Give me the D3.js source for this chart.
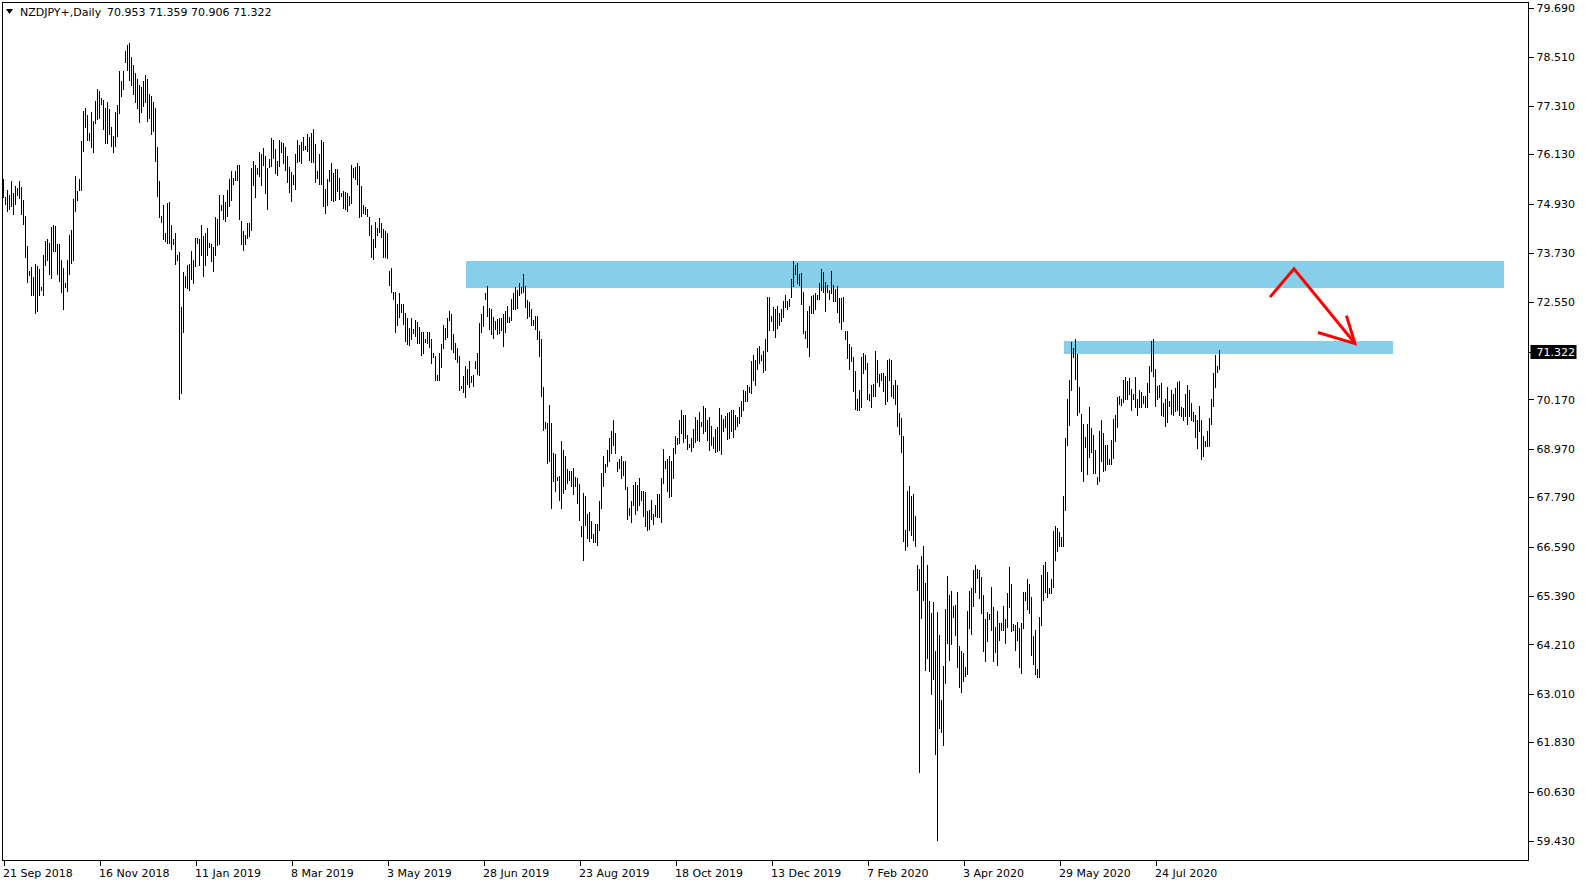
<!DOCTYPE html>
<html><head><meta charset="utf-8">
<script src="https://cdn.jsdelivr.net/npm/d3@7"></script>
<style>
html,body{margin:0;padding:0;background:#fff;overflow:hidden;}
text{font-family:"DejaVu Sans",Verdana,sans-serif;font-size:11px;fill:#000;}
</style></head>
<body><svg id="c" width="1585" height="884"></svg>
<script>
// ---- data (NZDJPY+, Daily) ----
const symbol = "NZDJPY+,Daily";
const lastOHLC = [70.953, 71.359, 70.906, 71.322];
const highs = [
75.51,75.08,75.26,75.13,75.48,75.18,75.35,75.29,75.48,75.32,
75.02,74.62,73.90,73.28,73.37,73.13,73.46,73.41,73.32,72.89,
73.68,74.01,74.07,73.97,74.35,74.39,74.37,73.95,73.93,73.55,
73.36,72.99,73.56,74.15,74.29,75.04,75.59,75.24,75.53,76.44,
77.17,77.24,77.07,76.63,77.15,76.94,77.43,77.70,77.67,77.50,
77.45,77.24,77.39,77.23,76.79,76.56,77.15,77.31,78.14,77.90,
78.14,78.63,78.79,78.82,78.50,78.30,78.10,77.95,77.80,77.75,
77.90,78.05,77.95,77.60,77.55,77.40,77.25,76.30,75.48,74.63,
74.88,74.20,74.93,74.96,74.39,74.05,74.21,73.66,73.74,72.40,
73.25,73.17,73.44,73.46,73.78,73.56,74.09,74.09,74.06,74.41,
74.13,74.20,74.33,73.97,73.95,73.86,74.59,74.54,75.14,74.88,
75.14,74.97,75.26,75.52,75.71,75.55,75.71,75.85,75.87,74.50,
74.25,74.15,74.44,74.46,75.78,75.97,75.87,75.78,76.17,76.14,
76.28,76.09,75.79,76.01,76.52,76.48,76.24,75.97,76.46,76.42,
76.40,76.30,76.08,75.81,75.69,75.61,76.12,76.48,76.34,76.43,
76.55,76.32,76.62,76.54,76.63,76.74,76.38,75.71,76.14,76.46,
76.43,75.27,75.52,75.73,75.91,75.67,75.77,75.77,75.55,75.18,
75.22,75.20,75.18,75.10,75.85,75.79,75.81,75.91,75.83,75.36,
74.88,74.84,74.80,74.60,74.39,74.05,74.47,74.32,74.56,74.45,
74.30,74.25,74.20,73.29,73.36,72.77,72.77,72.47,72.75,72.49,
72.47,72.25,72.13,71.90,72.13,71.88,72.10,72.04,71.92,71.80,
71.80,71.64,71.80,71.80,71.62,71.29,71.21,70.75,71.28,71.51,
71.98,71.90,72.13,72.31,72.23,71.76,71.52,71.40,71.21,70.48,
70.72,70.97,70.89,71.09,70.74,70.76,71.09,71.28,72.02,72.23,
72.43,72.75,72.91,72.39,72.36,72.16,72.06,72.12,72.14,72.13,
72.23,72.31,72.44,72.16,72.61,72.74,72.89,72.83,72.98,72.90,
73.22,72.91,72.57,72.52,72.37,72.09,72.18,72.20,71.82,71.63,
70.46,69.61,69.59,70.03,69.59,68.86,68.84,68.27,68.29,69.14,
68.92,68.79,68.47,68.43,68.43,68.48,68.27,68.25,68.11,67.08,
67.89,67.82,67.36,67.42,67.20,66.89,67.12,67.12,67.68,68.37,
68.79,68.60,68.92,69.21,69.39,69.65,69.35,68.63,68.72,68.78,
68.66,68.66,68.03,67.52,67.68,68.07,68.15,68.07,68.24,67.94,
67.94,67.90,67.44,67.48,67.72,67.38,67.60,67.87,67.87,68.25,
68.96,68.66,68.70,68.78,68.67,68.98,69.28,69.22,69.65,69.91,
69.79,69.77,69.30,69.08,69.21,69.45,69.74,69.67,69.85,69.61,
70.01,69.95,69.67,69.73,69.51,69.24,69.43,69.48,69.94,69.79,
69.69,69.75,69.83,69.86,69.90,69.91,69.79,69.73,69.98,70.12,
70.38,70.36,70.50,70.46,71.09,71.23,71.11,71.40,71.47,71.23,
71.33,71.62,72.65,72.65,72.18,72.41,72.35,72.43,72.25,72.36,
72.55,72.69,72.56,72.61,73.09,73.52,73.44,73.47,73.21,73.24,
72.77,71.83,72.32,72.43,72.67,72.71,72.75,72.69,72.99,73.32,
73.26,73.01,72.95,72.83,73.28,72.95,72.85,72.91,72.63,72.63,
72.65,71.83,71.83,71.51,71.44,71.19,70.86,70.17,70.38,71.19,
71.28,71.23,71.05,70.28,70.50,70.54,71.33,71.11,70.77,70.79,
70.81,70.72,71.11,71.15,71.13,70.52,70.64,70.50,69.82,69.71,
69.26,66.99,67.93,68.05,67.82,67.85,67.32,66.12,66.04,66.35,
66.60,65.70,66.14,65.25,64.97,65.23,64.05,64.98,64.42,62.84,
63.68,65.06,65.87,65.41,65.49,65.13,65.17,65.47,64.17,64.05,
63.99,63.64,65.01,65.51,65.57,66.02,66.12,66.04,66.00,65.84,
65.41,64.83,64.98,64.95,65.59,65.10,64.62,65.02,64.71,64.71,
65.13,64.83,65.44,66.08,65.68,64.70,64.68,64.75,64.59,64.71,
65.47,65.47,65.78,65.68,65.35,64.40,64.56,63.59,64.86,65.90,
66.12,66.21,65.96,65.58,65.78,66.95,67.09,67.02,66.93,66.82,
67.82,69.21,70.16,70.62,71.55,71.41,71.64,71.27,70.46,69.81,
69.56,69.24,69.57,69.98,69.47,69.30,68.94,68.27,69.40,69.65,
69.35,69.04,69.06,68.72,69.18,69.69,69.77,70.22,70.25,70.16,
70.64,70.70,70.60,70.68,70.42,70.28,70.70,70.18,70.38,70.34,
70.25,70.24,70.55,70.98,71.58,71.64,70.89,70.48,70.52,70.55,
70.06,70.18,70.47,70.13,70.40,70.28,70.44,70.58,70.60,69.98,
69.95,70.28,70.50,70.40,70.06,69.85,69.79,69.65,70.01,69.67,
69.27,69.14,69.39,69.70,70.16,70.79,71.23,70.98,71.359
];
const lows = [
75.08,74.92,74.74,74.78,74.86,74.67,74.92,75.14,75.06,74.67,
74.43,73.62,73.02,73.18,72.69,72.69,72.26,72.30,72.71,72.81,
72.69,73.42,73.54,73.21,73.11,73.76,73.76,73.21,73.03,72.77,
72.35,72.89,72.79,73.21,73.48,73.55,74.74,75.02,75.25,75.26,
76.20,76.78,76.48,76.46,76.29,76.17,76.89,76.97,77.01,77.35,
76.74,76.40,76.40,76.62,76.32,76.17,76.33,76.56,77.13,77.54,
77.70,78.36,78.18,77.92,77.80,77.60,77.40,77.25,76.91,77.15,
77.30,77.40,76.94,77.01,76.62,76.70,75.95,75.10,74.60,74.47,
74.07,74.01,73.97,73.97,73.82,73.95,73.46,73.55,70.16,70.32,
71.79,72.90,72.87,72.83,73.08,73.00,73.40,73.97,73.42,73.68,
73.16,73.44,73.68,73.86,73.52,73.28,73.68,73.91,73.93,74.76,
74.54,74.50,74.62,74.86,75.02,75.39,75.49,75.49,74.55,73.93,
73.79,73.94,74.09,74.13,74.29,75.37,75.08,75.65,75.59,75.37,
75.86,75.17,74.78,75.82,75.83,76.04,75.67,75.61,75.83,76.17,
75.90,75.75,75.44,75.20,74.98,75.40,75.28,75.94,75.95,75.91,
76.22,76.26,76.20,75.99,75.94,75.94,75.44,75.55,75.41,75.40,
74.86,74.70,74.88,75.47,75.02,74.98,75.00,75.23,75.04,75.10,
74.82,74.79,74.74,74.88,74.94,75.57,75.53,75.40,74.60,74.62,
74.70,74.68,74.62,74.15,73.63,73.58,73.86,74.15,74.24,74.10,
73.63,73.62,73.60,72.94,72.78,72.61,71.79,71.98,72.16,72.28,
71.99,71.58,71.51,71.48,71.62,71.78,71.70,71.53,71.53,71.23,
71.29,71.56,71.53,71.43,71.05,71.20,70.63,70.63,70.63,70.95,
71.40,71.63,71.67,72.08,71.39,71.32,71.15,71.06,70.40,70.43,
70.34,70.22,70.54,70.46,70.58,70.48,70.93,70.78,70.76,71.79,
71.94,72.59,72.20,71.88,71.75,71.66,71.86,71.74,71.78,71.84,
71.45,71.79,72.04,72.04,72.10,72.35,72.37,72.39,72.70,72.74,
72.77,72.41,72.14,72.20,71.97,71.98,71.86,71.64,71.21,70.24,
69.41,69.47,68.62,68.66,67.52,68.17,67.93,68.20,67.71,67.52,
67.89,67.97,68.13,68.21,68.06,67.85,68.05,67.64,67.22,66.83,
66.26,67.10,66.79,66.71,66.78,66.69,66.69,66.61,66.98,67.52,
68.05,68.40,68.54,68.66,68.86,69.04,68.86,68.41,68.49,68.25,
68.31,67.97,67.25,67.34,67.18,67.60,67.37,67.48,67.60,67.72,
67.33,67.09,66.99,67.01,67.24,67.14,67.32,67.30,67.30,67.17,
68.13,68.48,67.93,67.79,67.80,68.25,68.86,69.08,69.10,69.35,
69.13,69.22,68.96,68.99,68.90,68.99,69.13,69.16,69.14,69.52,
69.35,69.40,69.16,68.94,69.05,68.98,68.88,68.90,68.94,68.83,
69.39,69.49,69.20,69.21,69.39,69.25,69.43,69.52,69.59,69.75,
69.90,70.12,70.12,70.34,70.32,70.64,70.50,70.91,71.05,71.11,
70.82,70.87,71.33,71.84,72.06,71.84,71.68,71.90,71.97,72.06,
72.16,72.40,72.36,72.43,72.65,72.93,73.21,72.98,72.95,72.49,
71.78,71.66,71.43,71.21,72.27,72.27,72.35,72.59,72.61,72.81,
72.76,72.31,72.76,72.59,72.75,72.55,72.56,72.29,72.04,71.86,
72.06,71.63,71.17,70.90,71.09,70.36,69.93,69.91,69.89,69.97,
70.79,70.89,70.17,70.14,69.97,70.24,70.24,70.59,70.48,70.62,
70.36,70.04,70.12,70.62,70.24,70.20,70.04,69.51,69.33,68.87,
66.71,66.49,66.59,66.99,66.85,66.73,66.59,65.53,61.09,64.85,
65.29,63.57,63.87,63.55,63.00,63.36,61.54,59.45,62.17,62.07,
61.75,63.26,64.24,63.81,64.21,64.87,64.42,63.64,63.16,63.04,
63.32,63.44,63.47,64.60,64.46,65.14,65.48,65.82,65.33,64.97,
64.03,63.79,64.28,64.82,64.54,63.79,64.01,63.69,64.30,64.56,
64.54,64.24,64.63,65.11,64.52,64.56,64.06,64.30,63.65,63.51,
64.60,65.27,65.05,64.97,63.94,63.73,63.48,63.41,63.41,64.67,
65.27,65.47,65.36,65.45,65.45,65.60,66.25,66.47,66.59,66.59,
66.59,67.46,69.05,69.53,70.38,71.19,70.66,69.78,69.85,68.43,
68.17,69.00,68.35,68.76,68.88,68.37,68.36,68.10,68.17,68.67,
68.43,68.45,68.59,68.59,68.59,68.74,69.14,69.49,70.04,70.02,
70.09,70.16,70.18,70.28,69.91,70.18,69.98,69.78,69.97,69.97,
70.06,69.98,69.98,70.34,70.86,70.72,69.99,70.17,70.21,69.77,
69.75,69.51,69.60,69.99,69.81,69.79,69.87,69.91,69.79,69.75,
69.65,69.75,69.57,69.75,69.65,69.63,69.24,68.98,69.39,68.71,
68.78,69.02,69.02,69.02,69.55,69.99,70.46,70.82,70.906
];
const dateLabels = ["21 Sep 2018","16 Nov 2018","11 Jan 2019","8 Mar 2019","3 May 2019","28 Jun 2019","23 Aug 2019","18 Oct 2019","13 Dec 2019","7 Feb 2020","3 Apr 2020","29 May 2020","24 Jul 2020"];
const dateLabelBars = [0,48,96,144,192,240,288,336,384,432,480,528,576];
const priceTicks = [79.690,78.510,77.310,76.130,74.930,73.730,72.550,70.170,68.970,67.790,66.590,65.390,64.210,63.010,61.830,60.630,59.430];
// zones (bar index range, price range)
const zoneFromBar = [231.5, 530.5];
const zoneToBar = [750.5, 695];
const zoneHigh = [73.54, 71.60];
const zoneLow = [72.88, 71.28];
// red arrow path (bar index, price)
const arrowBars = [633.5, 645.5, 676];
const arrowPrices = [72.66, 73.35, 71.53];
const arrowHeadBars = [657.5, 676, 671.7];
const arrowHeadPrices = [71.80, 71.53, 72.21];

// ---- drawing ----
const svg = d3.select("#c");
const x = d3.scaleLinear().domain([0, 608]).range([3, 1219]);
const y = d3.scaleLinear().domain([59.43, 79.69]).range([841, 8.1]);
const frame = {l:2, t:2, r:1528, b:860};

// zones
const zones = zoneHigh.map((h,i)=>({h, l:zoneLow[i], a:zoneFromBar[i], b:zoneToBar[i]}));
svg.append("g").selectAll("rect").data(zones).join("rect")
  .attr("x", d=>Math.round(x(d.a))).attr("width", d=>Math.round(x(d.b))-Math.round(x(d.a)))
  .attr("y", d=>Math.round(y(d.h))).attr("height", d=>Math.round(y(d.l))-Math.round(y(d.h)))
  .attr("fill", "#87CEEB");

// bars
const bars = highs.map((h,i)=>({i, h, l:lows[i]}));
svg.append("g").attr("shape-rendering","crispEdges").selectAll("rect").data(bars).join("rect")
  .attr("x", d=>Math.round(x(d.i)))
  .attr("width", 1)
  .attr("y", d=>Math.floor(y(d.h)))
  .attr("height", d=>Math.max(1, Math.ceil(y(d.l)) - Math.floor(y(d.h))))
  .attr("fill", "#000");

// arrow
const line = d3.line().x(d=>x(d[0])).y(d=>y(d[1]));
svg.append("path").datum(arrowBars.map((b,i)=>[b, arrowPrices[i]]))
  .attr("d", line).attr("fill","none").attr("stroke","#ff0000").attr("stroke-width",3);
svg.append("path").datum(arrowHeadBars.map((b,i)=>[b, arrowHeadPrices[i]]))
  .attr("d", line).attr("fill","none").attr("stroke","#ff0000").attr("stroke-width",3);

// frame
svg.append("rect").attr("x", frame.l+0.5).attr("y", frame.t+0.5)
  .attr("width", frame.r-frame.l).attr("height", frame.b-frame.t)
  .attr("fill","none").attr("stroke","#000").attr("stroke-width",1).attr("shape-rendering","crispEdges");

// price axis
const yAxis = d3.axisRight(y).tickValues(priceTicks).tickFormat(d3.format(".3f")).tickSize(5).tickPadding(3);
const ya = svg.append("g").attr("transform", `translate(${frame.r+0.5},0)`).call(yAxis);
ya.select(".domain").remove();
ya.selectAll(".tick line").attr("stroke","#000").attr("shape-rendering","crispEdges");
ya.selectAll("text").attr("font-family","DejaVu Sans").attr("font-size","11px").attr("fill","#000");

// current price label
const cp = lastOHLC[3];
const cg = svg.append("g").attr("transform", `translate(${frame.r+0.5},${Math.round(y(cp))})`);
cg.append("line").attr("x1",0).attr("x2",5).attr("y1",0.5).attr("y2",0.5).attr("stroke","#000");
cg.append("rect").attr("x",2).attr("y",-7).attr("width",46).attr("height",14).attr("fill","#000");
cg.append("text").attr("x",8).attr("y",4).style("fill","#fff").text(d3.format(".3f")(cp));

// time axis
const xAxis = d3.axisBottom(x).tickValues(dateLabelBars).tickFormat((d,i)=>dateLabels[i]).tickSize(5).tickPadding(4);
const xa = svg.append("g").attr("transform", `translate(0.5,${frame.b+0.5})`).call(xAxis);
xa.select(".domain").remove();
xa.selectAll(".tick line").attr("stroke","#000").attr("shape-rendering","crispEdges");
xa.selectAll("text").attr("text-anchor","start").attr("x",-1).attr("font-family","DejaVu Sans").attr("font-size","11px").attr("fill","#000");

// title
svg.append("path").attr("d","M6,9 L13,9 L9.5,14 Z").attr("fill","#000");
const tt = svg.append("text").attr("x",20).attr("y",16);
tt.append("tspan").text(symbol);
tt.append("tspan").attr("x",107).text(lastOHLC.map(v=>v.toFixed(3)).join(" "));
</script></body></html>
